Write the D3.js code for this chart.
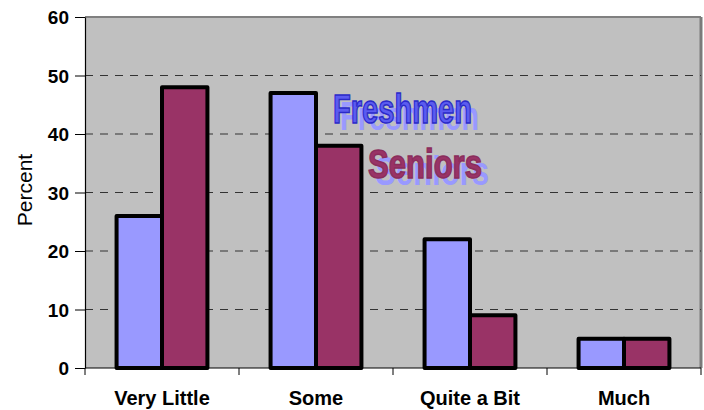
<!DOCTYPE html>
<html>
<head>
<meta charset="utf-8">
<script src="https://cdn.jsdelivr.net/npm/d3@7"></script>
<style>
  body { margin: 0; background: #fff; }
  svg { display: block; }
</style>
</head>
<body>
<div id="chart"></div>
<script>
var categories = ["Very Little", "Some", "Quite a Bit", "Much"];
var seriesNames = ["Freshmen", "Seniors"];
var freshmen = [26, 47, 22, 5];
var seniors = [48, 38, 9, 5];
var yTicks = [0, 10, 20, 30, 40, 50, 60];

var width = 704, height = 410;
var margin = { top: 17, right: 3, bottom: 42, left: 85 };
var innerW = width - margin.left - margin.right;
var innerH = height - margin.top - margin.bottom;
var colors = ["#9999ff", "#993366"];

var svg = d3.select("#chart").append("svg")
  .attr("width", width)
  .attr("height", height);

var g = svg.append("g")
  .attr("transform", "translate(" + margin.left + "," + margin.top + ")");

var x = d3.scaleBand().domain(categories).range([0, innerW]).paddingInner(0.41).paddingOuter(0.205);
var x1 = d3.scaleBand().domain(seriesNames).range([0, x.bandwidth()]);
var y = d3.scaleLinear().domain([0, 60]).range([innerH, 0]);

// plot background
g.append("rect")
  .attr("width", innerW)
  .attr("height", innerH)
  .attr("fill", "#c0c0c0");
// border top / right
g.append("line").attr("x1", 0).attr("x2", innerW).attr("y1", 0).attr("y2", 0)
  .attr("stroke", "#808080").attr("stroke-width", 2);
g.append("line").attr("x1", innerW).attr("x2", innerW).attr("y1", 0).attr("y2", innerH)
  .attr("stroke", "#7a7a7a").attr("stroke-width", 3);

// gridlines
g.selectAll(".grid").data(yTicks.filter(function (d) { return d > 0 && d < 60; }))
  .enter().append("line")
  .attr("class", "grid")
  .attr("x1", 0).attr("x2", innerW)
  .attr("y1", function (d) { return y(d); })
  .attr("y2", function (d) { return y(d); })
  .attr("stroke", "#333")
  .attr("stroke-width", 1)
  .attr("stroke-dasharray", "8,7");

// bars
var data = categories.map(function (c, i) {
  return { cat: c, values: [{ s: seriesNames[0], v: freshmen[i] }, { s: seriesNames[1], v: seniors[i] }] };
});
var groups = g.selectAll(".grp").data(data).enter().append("g")
  .attr("transform", function (d) { return "translate(" + x(d.cat) + ",0)"; });
groups.selectAll("rect").data(function (d) { return d.values; })
  .enter().append("rect")
  .attr("x", function (d) { return x1(d.s); })
  .attr("y", function (d) { return y(d.v); })
  .attr("width", x1.bandwidth())
  .attr("height", function (d) { return innerH - y(d.v); })
  .attr("fill", function (d, i) { return colors[i]; })
  .attr("stroke", "#000")
  .attr("stroke-width", 4)
  .attr("stroke-linejoin", "round");

// y axis
var yAxis = g.append("g")
  .call(d3.axisLeft(y).tickValues(yTicks).tickSize(10).tickSizeOuter(0));
yAxis.select(".domain").attr("stroke", "#000").attr("stroke-width", 1.2);
yAxis.selectAll("line").attr("stroke", "#000");
yAxis.selectAll("text")
  .attr("x", -16)
  .attr("dy", "0.36em")
  .style("font-family", "Arial, 'Liberation Sans', sans-serif")
  .style("font-size", "19px")
  .style("font-weight", "bold")
  .attr("fill", "#000");

// x axis
var xTicksG = g.append("g").attr("transform", "translate(0," + innerH + ")");
xTicksG.append("line").attr("x1", 0).attr("x2", innerW).attr("stroke", "#000").attr("stroke-width", 1.2);
var step = x.step();
xTicksG.selectAll(".xt").data(d3.range(categories.length + 1))
  .enter().append("line")
  .attr("x1", function (d) { return d * step; })
  .attr("x2", function (d) { return d * step; })
  .attr("y1", 0).attr("y2", 7)
  .attr("stroke", "#000");
xTicksG.selectAll(".xl").data(categories)
  .enter().append("text")
  .attr("x", function (d) { return x(d) + x.bandwidth() / 2; })
  .attr("y", 37)
  .attr("text-anchor", "middle")
  .style("font-family", "Arial, 'Liberation Sans', sans-serif")
  .style("font-size", "20px")
  .style("font-weight", "bold")
  .text(function (d) { return d; });

// y label
svg.append("text")
  .attr("transform", "translate(32," + 190 + ") rotate(-90)")
  .attr("text-anchor", "middle")
  .style("font-family", "Arial, 'Liberation Sans', sans-serif")
  .style("font-size", "21px")
  .text("Percent");

// legend (word-art style)
var legend = [
  { name: seriesNames[0], x: 333, y: 123, w: 139, fill: "#5b5bf0", stroke: "#2a2ac8" },
  { name: seriesNames[1], x: 368, y: 178, w: 114, fill: "#993366", stroke: "#8a2d5c" }
];
legend.forEach(function (l) {
  svg.append("text")
    .attr("x", l.x + 7).attr("y", l.y + 7)
    .attr("textLength", l.w).attr("lengthAdjust", "spacingAndGlyphs")
    .style("font-family", "'Liberation Sans Narrow', 'Liberation Sans', Arial, sans-serif")
    .style("font-size", "41px").style("font-weight", "bold")
    .attr("fill", "#9999ff")
    .text(l.name);
  svg.append("text")
    .attr("x", l.x).attr("y", l.y)
    .attr("textLength", l.w).attr("lengthAdjust", "spacingAndGlyphs")
    .style("font-family", "'Liberation Sans Narrow', 'Liberation Sans', Arial, sans-serif")
    .style("font-size", "41px").style("font-weight", "bold")
    .attr("fill", l.fill)
    .attr("stroke", l.stroke).attr("stroke-width", 1.5)
    .text(l.name);
});
</script>
</body>
</html>
